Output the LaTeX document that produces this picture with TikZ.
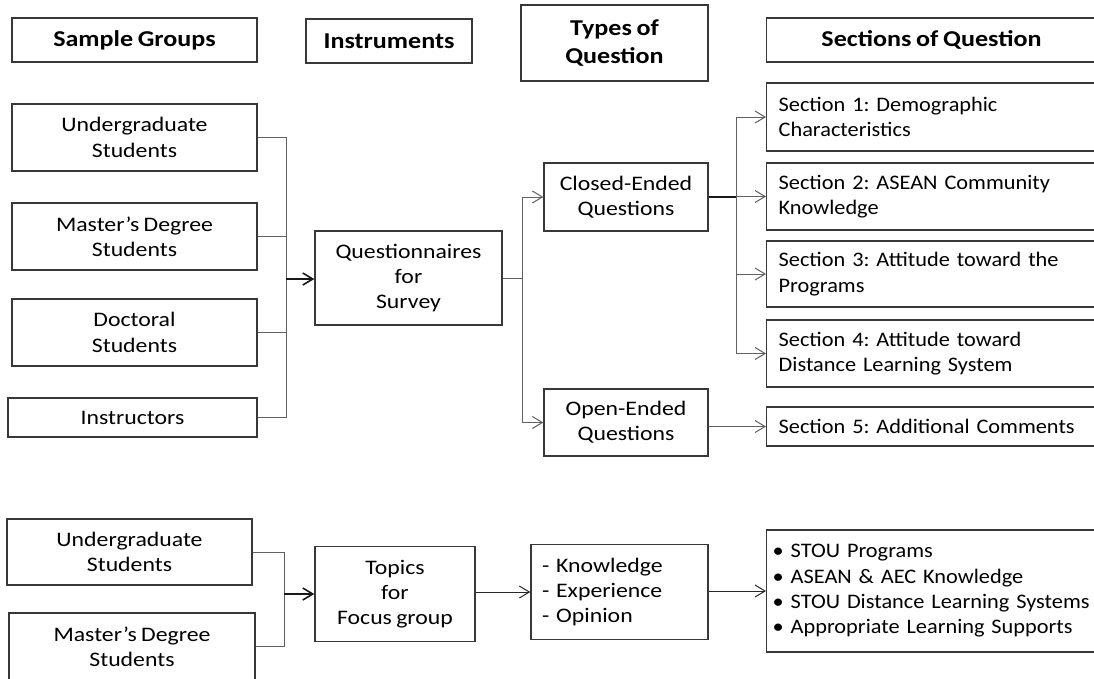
\documentclass[tikz,border=0pt]{standalone}
\usepackage{fontspec}
\setmainfont{Carlito}[FakeStretch=1.15, WordSpace=0.8]
\newfontfamily\sectfont{Carlito}[FakeStretch=1.08, WordSpace=0.6]
\usetikzlibrary{arrows.meta,positioning}
\frenchspacing
\tikzset{
  every box/.style={draw=black!78, line width=1pt, inner sep=0pt, align=center,
    font=\fontsize{15.5}{19}\selectfont},
  head/.style={every box, font=\bfseries\fontsize{17}{21}\selectfont},
  item/.style={every box},
  sect/.style={every box, font=\sectfont\fontsize{15.5}{19}\selectfont, anchor=west,
    align=left, inner xsep=9pt, minimum width=251.25pt, text width=270pt},
  link/.style={draw=black!62, line width=0.75pt},
  feed/.style={link, -{Straight Barb[length=7.5pt,width=9pt]}},
  main/.style={draw=black!90, line width=1.2pt, -{Straight Barb[length=7.5pt,width=9pt]}}
}

\begin{document}
\begin{tikzpicture}[x=0.75pt, y=-0.75pt]
  \useasboundingbox (0,0) rectangle (1094,678);

  % column headings
  \node[head, minimum width=183.75pt, minimum height=33pt] (hsample) at (134.5,40) {Sample Groups};
  \node[head, minimum width=124.5pt, minimum height=33pt] (hinstr) at (389,41) {Instruments};
  \node[head, minimum width=140.25pt, minimum height=57pt] (htypes) at (614.5,43) {Types of\\Question};
  \node[head, anchor=west, minimum width=251.25pt, minimum height=33pt] (hsect) at (766,40) {\hspace*{-4pt}Sections of Question};

  % survey: sample groups
  \node[item, minimum width=183.75pt, minimum height=50.25pt] (ugrad) at (134.5,137.5) {Undergraduate\\Students};
  \node[item, minimum width=183.75pt, minimum height=50.25pt] (master) at (134.5,236.5) {Master’s Degree\\Students};
  \node[item, minimum width=183.75pt, minimum height=50.25pt] (doctor) at (134.5,332.5) {Doctoral\\Students};
  \node[item, minimum width=186.75pt, minimum height=29.25pt] (instr) at (132.5,417.5) {Instructors};

  \node[item, minimum width=140.25pt, minimum height=70.5pt] (quest) at (408.5,278) {Questionnaires\\for\\Survey};

  \node[item, minimum width=123pt, minimum height=51pt] (closed) at (626,197) {Closed-Ended\\Questions};
  \node[item, minimum width=123pt, minimum height=50.25pt] (open) at (626,422.5) {Open-Ended\\Questions};

  \node[sect, minimum height=51pt] (sec1) at (766,117) {Section 1: Demographic\\Characteristics};
  \node[sect, minimum height=50.25pt] (sec2) at (766,196.5) {Section 2: ASEAN Community\\Knowledge};
  \node[sect, minimum height=49.5pt] (sec3) at (766,274) {Section 3: Attitude toward the\\Programs};
  \node[sect, minimum height=50.25pt] (sec4) at (766,353.5) {Section 4: Attitude toward\\Distance Learning System};
  \node[sect, minimum height=29.25pt] (sec5) at (766,426.5) {Section 5: Additional Comments};

  \coordinate (busa) at (286,279);
  \coordinate (busb) at (522,278);
  \coordinate (busc) at (736,197);
  \draw[link] (ugrad.east) -| (busa);
  \draw[link] (master.east) -| (busa);
  \draw[link] (doctor.east) -| (busa);
  \draw[link] (instr.east) -| (busa);
  \draw[main] (busa) -- (busa -| quest.west);
  \draw[link] (quest.east) -- (busb);
  \draw[feed] (busb) |- (closed.west);
  \draw[feed] (busb) |- (open.west);
  \draw[link, draw=black!90, line width=1.4pt] (closed.east) -- (busc);
  \foreach \s in {sec1,sec2,sec3,sec4}
    \draw[feed] (busc) |- (\s.west);
  \draw[feed] (open.east |- sec5.west) -- (sec5.west);

  % focus group
  \node[item, minimum width=183.75pt, minimum height=49.5pt] (ugradf) at (129.5,552) {Undergraduate\\Students};
  \node[item, minimum width=184.5pt, minimum height=50.25pt] (masterf) at (132,646.5) {Master’s Degree\\Students};
  \node[item, minimum width=120pt, minimum height=71.25pt] (topics) at (395,594) {Topics\\for\\Focus group};
  \node[item, align=left, inner xsep=8.25pt, text width=116.25pt, minimum height=71.25pt] (kind) at (619.5,592) {- Knowledge\\- Experience\\- Opinion};
  \node[sect, inner xsep=4.5pt, minimum height=91.5pt] (issues) at (766,591)
    {• STOU Programs\\• ASEAN \& AEC Knowledge\\• STOU Distance Learning Systems\\• Appropriate Learning Supports};

  \coordinate (busd) at (284,594);
  \draw[link] (ugradf.east) -| (busd);
  \draw[link] (masterf.east) -| (busd);
  \draw[main] (busd) -- (busd -| topics.west);
  \draw[feed, draw=black!85] (topics.east |- kind.west) -- (kind.west);
  \draw[feed, draw=black!85] (kind.east |- issues.west) -- (issues.west);
\end{tikzpicture}
\end{document}
